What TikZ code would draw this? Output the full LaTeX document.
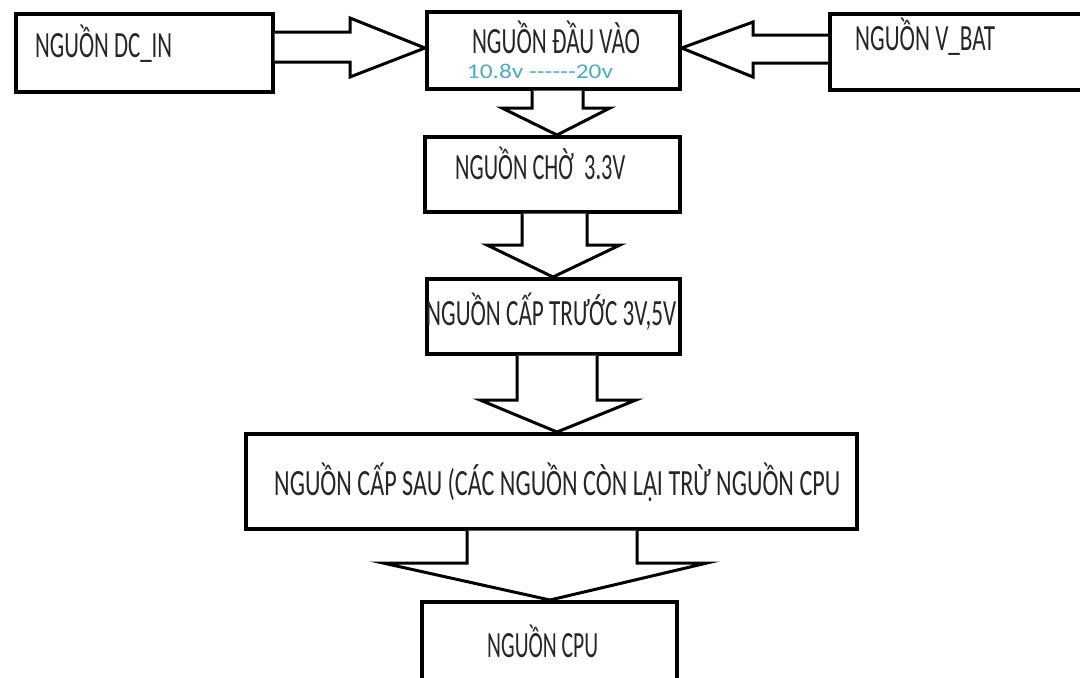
\documentclass[tikz,border=0pt]{standalone}
\usepackage{fontspec}
\usepackage{graphicx}
\setmainfont{Carlito}
\definecolor{rangeblue}{RGB}{75,172,198}
\newcommand\fitw[2]{\resizebox{#1}{\height}{#2}}
\tikzset{
  box/.style={draw=black, line width=3.6pt, fill=white, inner sep=0pt},
  barrow/.style={draw=black, line width=3pt, fill=white, line join=miter},
  lbl/.style={inner sep=0pt, text=black!85, font=\fontsize{37}{42}\selectfont},
}
\begin{document}
\begin{tikzpicture}[x=1pt,y=-1pt]
\clip (0,0) rectangle (1080,678);
\fill[white] (0,0) rectangle (1080,678);
% boxes
\node[box, anchor=north west, minimum width=257pt, minimum height=78pt] (dc) at (14,12) {};
\node[box, anchor=north west, minimum width=253pt, minimum height=77pt] (dv) at (425,10) {};
\node[box, anchor=north west, minimum width=260pt, minimum height=76pt] (vb) at (828,12) {};
\node[box, anchor=north west, minimum width=255pt, minimum height=75pt] (cho) at (423,135) {};
\node[box, anchor=north west, minimum width=253pt, minimum height=75pt] (ct) at (425,277) {};
\node[box, anchor=north west, minimum width=611pt, minimum height=95pt] (cs) at (244,432) {};
\node[box, anchor=north west, minimum width=255pt, minimum height=90pt] (cpu) at (420,600) {};
% texts
\node[lbl, anchor=base west] (tdc) at (35,57) {\fitw{137pt}{NGUỒN DC\_IN}};
\node[lbl, anchor=base] (tdv) at (556,53) {\fitw{168pt}{NGUỒN ĐẦU VÀO}};
\node[inner sep=0pt, anchor=base, text=rangeblue, font=\fontsize{21}{24}\selectfont] (tr) at (540,78) {\fitw{146pt}{10.8v -{}-{}-{}-{}-{}-20v}};
\node[lbl, anchor=base west] (tvb) at (855,50) {\fitw{140pt}{NGUỒN V\_BAT}};
\node[lbl, anchor=base west] (tcho) at (455,179) {\fitw{170pt}{NGUỒN CHỜ\ \ 3.3V}};
\node[lbl, anchor=base west] (tct) at (426,325) {\fitw{250pt}{NGUỒN CẤP TRƯỚC 3V,5V}};
\node[lbl, anchor=base west] (tcs) at (274,495) {\fitw{566pt}{NGUỒN CẤP SAU (CÁC NGUỒN CÒN LẠI TRỪ NGUỒN CPU}};
\node[lbl, anchor=base west] (tcpu) at (487,657) {\fitw{111pt}{NGUỒN CPU}};
% block arrows
\draw[barrow] (dc.east |- 0,32) -- (350,32) -- (350,18) -- (dv.west |- 0,48) -- (350,77) -- (350,62) -- (dc.east |- 0,62);
\draw[barrow] (vb.west |- 0,35) -- (753,35) -- (753,22) -- (dv.east |- 0,48) -- (753,77) -- (753,63) -- (vb.west |- 0,63);
\draw[barrow] (532,0 |- dv.south) -- (532,108) -- (502,108) -- (557,0 |- cho.north) -- (610,108) -- (583,108) -- (583,0 |- dv.south);
\draw[barrow] (522,0 |- cho.south) -- (522,245) -- (487,245) -- (553,0 |- ct.north) -- (620,245) -- (587,245) -- (587,0 |- cho.south);
\draw[barrow] (517,0 |- ct.south) -- (517,400) -- (480,400) -- (557,0 |- cs.north) -- (636,400) -- (597,400) -- (597,0 |- ct.south);
\draw[barrow] (467,0 |- cs.south) -- (467,563) -- (383,563) -- (550,0 |- cpu.north) -- (707,563) -- (637,563) -- (637,0 |- cs.south);
\end{tikzpicture}
\end{document}
